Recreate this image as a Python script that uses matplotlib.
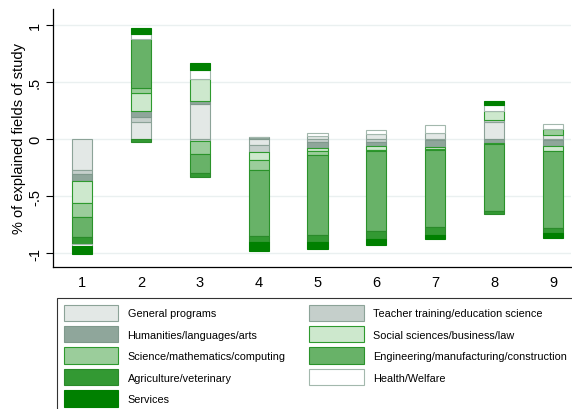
import numpy as np
import matplotlib
matplotlib.use("Agg")
import matplotlib.pyplot as plt

plt.rcParams["font.family"] = ["Liberation Sans", "DejaVu Sans"]

# ── Shares of explained fields of study, by group 1-9 ─────────────────────────
groups = [1, 2, 3, 4, 5, 6, 7, 8, 9]

fields = [
    "General programs",
    "Teacher training/education science",
    "Humanities/languages/arts",
    "Social sciences/business/law",
    "Science/mathematics/computing",
    "Engineering/manufacturing/construction",
    "Agriculture/veterinary",
    "Health/Welfare",
    "Services",
]

general     = [-0.270, 0.145, 0.310, -0.050, 0.025, 0.045, 0.055, 0.150, 0.035]
teacher     = [-0.040, 0.045, -0.020, -0.060, -0.030, -0.025, -0.010, 0.020, -0.010]
humanities  = [-0.055, 0.055, 0.025, 0.015, -0.045, -0.035, -0.060, -0.035, -0.055]
social      = [-0.200, 0.155, 0.190, -0.070, -0.030, -0.040, -0.020, 0.075, -0.040]
science     = [-0.120, 0.045, -0.110, -0.090, -0.035, -0.005, -0.005, -0.005, 0.055]
engineering = [-0.170, 0.430, -0.170, -0.580, -0.700, -0.700, -0.680, -0.595, -0.675]
agriculture = [-0.065, -0.030, -0.035, -0.050, -0.060, -0.075, -0.065, -0.025, -0.045]
health      = [-0.015, 0.045, 0.080, 0.000, 0.025, 0.030, 0.065, 0.055, 0.040]
services    = [-0.070, 0.050, 0.060, -0.080, -0.060, -0.045, -0.040, 0.030, -0.040]

series = [general, teacher, humanities, social, science,
          engineering, agriculture, health, services]

face_colors = ["#e3e8e6", "#c5cfcb", "#8fa69b", "#cde8cd", "#9bcd9b",
               "#68b268", "#339933", "#ffffff", "#008000"]
edge_colors = ["#8ca398", "#8ca398", "#7f998c", "#2e9a2e", "#2e9a2e",
               "#2a922a", "#2a8a2a", "#a3b8ad", "#008000"]

fig = plt.figure(figsize=(5.72, 4.10), dpi=100)
ax = fig.add_axes([53 / 572, 1 - 268 / 410, 518 / 572, 258 / 410])

# positive parts stack upward from zero, negative parts downward
pos_base = np.zeros(len(groups))
neg_base = np.zeros(len(groups))
handles = []
for vals, fc, ec, name in zip(series, face_colors, edge_colors, fields):
    vals = np.array(vals)
    bottom = np.where(vals >= 0, pos_base, neg_base)
    bars = ax.bar(groups, vals, bottom=bottom, width=0.34, color=fc,
                  edgecolor=ec, linewidth=0.8, label=name, zorder=3)
    handles.append(bars)
    pos_base = pos_base + np.clip(vals, 0, None)
    neg_base = neg_base + np.clip(vals, None, 0)

ax.set_xlim(0.507, 9.306)
ax.set_ylim(-1.121, 1.138)

ax.set_xticks(groups)
ax.set_xticklabels([str(g) for g in groups], fontsize=10.5)
ax.tick_params(axis="x", length=0, pad=6)

ax.set_yticks([1, 0.5, 0, -0.5, -1])
ax.set_yticklabels(["1", ".5", "0", "-.5", "-1"], rotation=90, va="center", fontsize=10.5)
ax.tick_params(axis="y", length=5, width=0.8, pad=3)

ax.set_ylabel("% of explained fields of study", fontsize=10.5)
ax.yaxis.set_label_coords(-0.053, 0.5)

ax.grid(axis="y", color="#eaf0f0", linewidth=1.0, zorder=0)
ax.set_axisbelow(True)
for side in ["top", "right"]:
    ax.spines[side].set_visible(False)
for side in ["left", "bottom"]:
    ax.spines[side].set_linewidth(0.9)

# legend filled row by row in two columns
order = [0, 2, 4, 6, 8, 1, 3, 5, 7]
leg = fig.legend([handles[i] for i in order], [fields[i] for i in order],
                 ncol=2, loc="upper left", bbox_to_anchor=(57 / 572, 1 - 299 / 410),
                 fontsize=7.8, frameon=True, fancybox=False, edgecolor="black",
                 handlelength=5.05, handleheight=1.95, handletextpad=0.86,
                 labelspacing=0.47, columnspacing=2.2, borderpad=0.6,
                 borderaxespad=0)
leg.get_frame().set_linewidth(0.8)

plt.savefig("out.png", dpi=100)
plt.close()
